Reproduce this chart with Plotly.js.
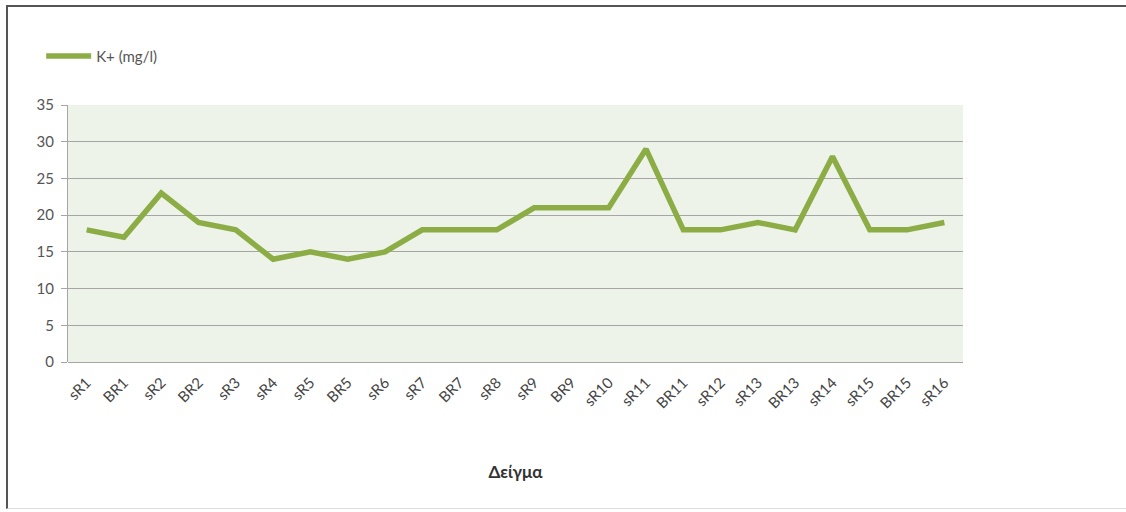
<!DOCTYPE html>
<html>
<head>
<meta charset="utf-8">
<script src="https://cdn.plot.ly/plotly-3.0.1.min.js"></script>
<style>
  html, body { margin: 0; padding: 0; background: #ffffff; }
  #chart { position: absolute; left: 0; top: 0; width: 1126px; height: 512px; }
  #frame { position: absolute; left: 6px; top: 5px; width: 1120px; height: 504px;
           border-top: 2px solid #555555; border-left: 2px solid #555555;
           border-bottom: 1px solid #dddddd; pointer-events: none; box-sizing: border-box; }
</style>
</head>
<body>
<div id="chart"></div>
<div id="frame"></div>
<script>
const categories = ["sR1","BR1","sR2","BR2","sR3","sR4","sR5","BR5","sR6","sR7","BR7","sR8",
                    "sR9","BR9","sR10","sR11","BR11","sR12","sR13","BR13","sR14","sR15","BR15","sR16"];
const potassium = [18,17,23,19,18,14,15,14,15,18,18,18,21,21,21,29,18,18,19,18,28,18,18,19];
const seriesName = "K+ (mg/l)";
const xTitle = "Δείγμα";
const yTicks = [0,5,10,15,20,25,30,35];

const trace = {
  x: categories,
  y: potassium,
  type: "scatter",
  mode: "lines",
  name: seriesName,
  line: { color: "#8cad45", width: 5.5 },
  showlegend: true
};

const layout = {
  width: 1126,
  height: 512,
  margin: { l: 68, r: 163, t: 105, b: 150 },
  paper_bgcolor: "rgba(0,0,0,0)",
  plot_bgcolor: "#eef3e9",
  font: { family: "Lato, 'Open Sans', sans-serif", size: 15, color: "#555555" },
  showlegend: true,
  legend: {
    x: -0.03, y: 1.19, xanchor: "left", yanchor: "middle",
    orientation: "h",
    itemwidth: 45,
    bgcolor: "rgba(0,0,0,0)",
    font: { size: 15, color: "#555555" }
  },
  xaxis: {
    type: "category",
    range: [-0.5, 23.5],
    tickangle: -45,
    tickfont: { size: 15, color: "#444444" },
    showgrid: false,
    showline: false,
    zeroline: false,
    ticks: "",
    ticklabelstandoff: 8,
    title: { text: xTitle, font: { size: 17, color: "#333333", weight: "bold" }, standoff: 55 }
  },
  yaxis: {
    range: [0, 35],
    tickvals: yTicks,
    tickfont: { size: 15, color: "#555555" },
    showgrid: true,
    gridcolor: "#a6a6a6",
    gridwidth: 1,
    zeroline: true,
    zerolinecolor: "#a6a6a6",
    zerolinewidth: 1,
    showline: true,
    linecolor: "#a6a6a6",
    ticks: "outside",
    ticklen: 6,
    tickcolor: "#a6a6a6",
    ticklabelstandoff: 4
  }
};

Plotly.newPlot("chart", [trace], layout, { displayModeBar: false, staticPlot: true });
</script>
</body>
</html>
